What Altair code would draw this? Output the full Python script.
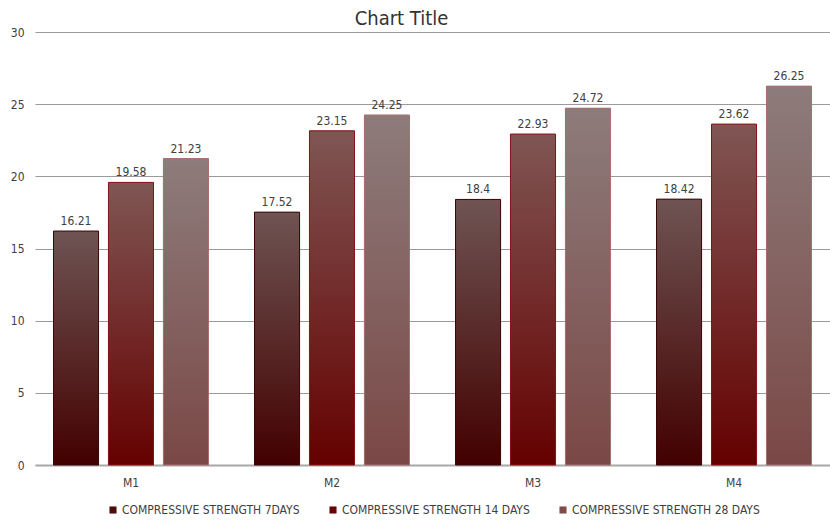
import altair as alt
import pandas as pd

mixes = ["M1", "M2", "M3", "M4"]
series = ["COMPRESSIVE STRENGTH 7DAYS", "COMPRESSIVE STRENGTH 14 DAYS", "COMPRESSIVE STRENGTH 28 DAYS"]
s7 = [16.21, 17.52, 18.4, 18.42]
s14 = [19.58, 23.15, 22.93, 23.62]
s28 = [21.23, 24.25, 24.72, 26.25]
y_ticks = [0, 5, 10, 15, 20, 25, 30]

legend_colors = ["#4a0c0c", "#6a0404", "#7c4c4a"]
grad_tops = ["#6e5453", "#7f5654", "#8d7c7b"]
grad_bottoms = ["#430000", "#650000", "#7a4846"]
strokes = ["#3a0606", "#8a1414", "#a87070"]

rows = []
for s, vals in zip(series, [s7, s14, s28]):
    for m, v in zip(mixes, vals):
        rows.append({"mix": m, "series": s, "value": v, "label": f"{v:g}"})
df = pd.DataFrame(rows)

FONT = "DejaVu Sans Condensed, DejaVu Sans, sans-serif"

x_enc = alt.X("mix:N", sort=mixes, title=None,
              scale=alt.Scale(paddingInner=0.229, paddingOuter=0.092),
              axis=alt.Axis(labelAngle=0, domain=True, domainColor="#a8a8a8", domainWidth=2,
                            ticks=False, labelPadding=12,
                            labelFontSize=12, labelColor="#404040", labelFont=FONT))
xo_enc = alt.XOffset("series:N", sort=series,
                     scale=alt.Scale(domain=series, paddingInner=0.18, paddingOuter=0))
y_enc = alt.Y("value:Q", title=None,
              scale=alt.Scale(domain=[0, 30], nice=False),
              axis=alt.Axis(values=y_ticks, domain=False, ticks=False, labelPadding=11,
                            gridColor="#9a9a9a", gridWidth=1,
                            labelFontSize=12, labelColor="#404040", labelFont=FONT))

base = alt.Chart(df)

solid = base.mark_bar().encode(
    x=x_enc, xOffset=xo_enc, y=y_enc,
    color=alt.Color("series:N", sort=series,
                    scale=alt.Scale(domain=series, range=legend_colors),
                    legend=alt.Legend(orient="none", legendX=72, legendY=472,
                                      direction="horizontal", title=None,
                                      symbolType="square", symbolSize=50, symbolStrokeWidth=0,
                                      labelFontSize=12, labelColor="#404040", labelFont=FONT,
                                      labelOffset=3, columnPadding=27, labelLimit=400)),
)

layers = [solid]
for s, top, bot, st in zip(series, grad_tops, grad_bottoms, strokes):
    grad = alt.Gradient(gradient="linear",
                        stops=[alt.GradientStop(color=top, offset=0),
                               alt.GradientStop(color=bot, offset=1)],
                        x1=0, x2=0, y1=0, y2=1)
    layers.append(
        base.transform_filter(alt.datum.series == s)
        .mark_bar(fill=grad, stroke=st, strokeWidth=1)
        .encode(x=x_enc, xOffset=xo_enc, y=y_enc)
    )

text = base.mark_text(dy=-10, fontSize=12, color="#404040", font=FONT).encode(
    x=x_enc, xOffset=xo_enc, y=y_enc, text="label:N")
layers.append(text)

chart = alt.layer(*layers).properties(
    width=795, height=433,
    title=alt.TitleParams("Chart Title", fontSize=20, font=FONT, fontWeight="normal",
                          color="#333333", offset=-3, dx=-31),
    padding={"left": 10, "top": 9, "right": 0, "bottom": 0},
    background="white",
).configure_view(stroke=None)

chart.save("out.html", embed_options={"renderer": "svg", "actions": False})
